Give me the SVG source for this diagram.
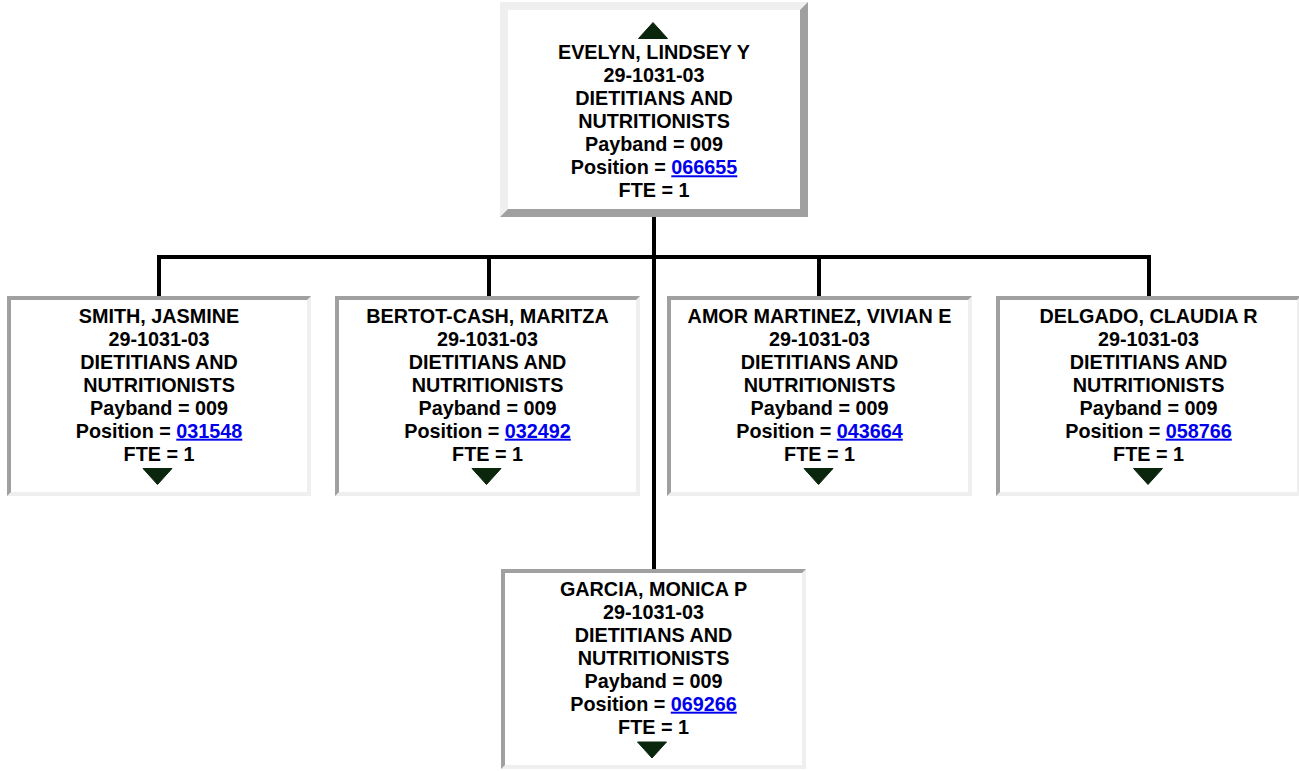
<svg xmlns="http://www.w3.org/2000/svg" width="1299" height="771" viewBox="0 0 1299 771">
<style>
text{font-family:"Liberation Sans",Arial,sans-serif;font-weight:bold;font-size:19.8px;fill:#000;text-anchor:middle}
.lnk{fill:#0000ee;text-decoration:underline}
.lt{fill:#efefef}
.dk{fill:#a0a0a0}
.in{fill:#fff}
.tri{fill:#0a260c;stroke:#0a260c;stroke-width:1;stroke-linejoin:round}
.conn{fill:none;stroke:#000;stroke-width:4;stroke-linejoin:miter;stroke-linecap:butt}
</style>
<rect width="1299" height="771" fill="#fff"/>
<g id="connectors">
<path class="conn" d="M159,296 V257 H1149 V296"/>
<path class="conn" d="M489,257 V296"/>
<path class="conn" d="M819,257 V296"/>
<path class="conn" d="M654,217 V569"/>
</g>
<g id="node-evelyn">
<rect class="dk" x="500" y="2" width="308" height="215"/>
<polygon class="lt" points="500,2 808,2 800,10 508,10 508,209 500,217"/>
<rect class="in" x="508" y="10" width="292" height="199"/>
<polygon class="tri" points="638.5,38.5 667.5,38.5 653,22.5"/>
<text x="654" y="59.3">EVELYN, LINDSEY Y</text>
<text x="654" y="82.3">29-1031-03</text>
<text x="654" y="105.3">DIETITIANS AND</text>
<text x="654" y="128.3">NUTRITIONISTS</text>
<text x="654" y="151.3">Payband = 009</text>
<text x="654" y="174.3">Position = <tspan class="lnk">066655</tspan></text>
<text x="654" y="197.3">FTE = 1</text>
</g>
<g id="node-smith">
<rect class="lt" x="7" y="296" width="304" height="200"/>
<polygon class="dk" points="7,296 311,296 307,300 11,300 11,492 7,496"/>
<rect class="in" x="11" y="300" width="296" height="192"/>
<text x="159" y="322.7">SMITH, JASMINE</text>
<text x="159" y="345.7">29-1031-03</text>
<text x="159" y="368.7">DIETITIANS AND</text>
<text x="159" y="391.7">NUTRITIONISTS</text>
<text x="159" y="414.7">Payband = 009</text>
<text x="159" y="437.7">Position = <tspan class="lnk">031548</tspan></text>
<text x="159" y="460.7">FTE = 1</text>
<polygon class="tri" points="143,468.5 172,468.5 157.5,484.5"/>
</g>
<g id="node-bertot">
<rect class="lt" x="335" y="296" width="305" height="200"/>
<polygon class="dk" points="335,296 640,296 636,300 339,300 339,492 335,496"/>
<rect class="in" x="339" y="300" width="297" height="192"/>
<text x="487.5" y="322.7">BERTOT-CASH, MARITZA</text>
<text x="487.5" y="345.7">29-1031-03</text>
<text x="487.5" y="368.7">DIETITIANS AND</text>
<text x="487.5" y="391.7">NUTRITIONISTS</text>
<text x="487.5" y="414.7">Payband = 009</text>
<text x="487.5" y="437.7">Position = <tspan class="lnk">032492</tspan></text>
<text x="487.5" y="460.7">FTE = 1</text>
<polygon class="tri" points="472,468.5 501,468.5 486.5,484.5"/>
</g>
<g id="node-amor">
<rect class="lt" x="667" y="296" width="305" height="200"/>
<polygon class="dk" points="667,296 972,296 968,300 671,300 671,492 667,496"/>
<rect class="in" x="671" y="300" width="297" height="192"/>
<text x="819.5" y="322.7">AMOR MARTINEZ, VIVIAN E</text>
<text x="819.5" y="345.7">29-1031-03</text>
<text x="819.5" y="368.7">DIETITIANS AND</text>
<text x="819.5" y="391.7">NUTRITIONISTS</text>
<text x="819.5" y="414.7">Payband = 009</text>
<text x="819.5" y="437.7">Position = <tspan class="lnk">043664</tspan></text>
<text x="819.5" y="460.7">FTE = 1</text>
<polygon class="tri" points="804,468.5 833,468.5 818.5,484.5"/>
</g>
<g id="node-delgado">
<rect class="lt" x="996" y="296" width="305" height="200"/>
<polygon class="dk" points="996,296 1301,296 1297,300 1000,300 1000,492 996,496"/>
<rect class="in" x="1000" y="300" width="297" height="192"/>
<text x="1148.5" y="322.7">DELGADO, CLAUDIA R</text>
<text x="1148.5" y="345.7">29-1031-03</text>
<text x="1148.5" y="368.7">DIETITIANS AND</text>
<text x="1148.5" y="391.7">NUTRITIONISTS</text>
<text x="1148.5" y="414.7">Payband = 009</text>
<text x="1148.5" y="437.7">Position = <tspan class="lnk">058766</tspan></text>
<text x="1148.5" y="460.7">FTE = 1</text>
<polygon class="tri" points="1133.5,468.5 1162.5,468.5 1148,484.5"/>
</g>
<g id="node-garcia">
<rect class="lt" x="501" y="569" width="305" height="200"/>
<polygon class="dk" points="501,569 806,569 802,573 505,573 505,765 501,769"/>
<rect class="in" x="505" y="573" width="297" height="192"/>
<text x="653.5" y="595.7">GARCIA, MONICA P</text>
<text x="653.5" y="618.7">29-1031-03</text>
<text x="653.5" y="641.7">DIETITIANS AND</text>
<text x="653.5" y="664.7">NUTRITIONISTS</text>
<text x="653.5" y="687.7">Payband = 009</text>
<text x="653.5" y="710.7">Position = <tspan class="lnk">069266</tspan></text>
<text x="653.5" y="733.7">FTE = 1</text>
<polygon class="tri" points="637.5,742 666.5,742 652,758"/>
</g>
</svg>
